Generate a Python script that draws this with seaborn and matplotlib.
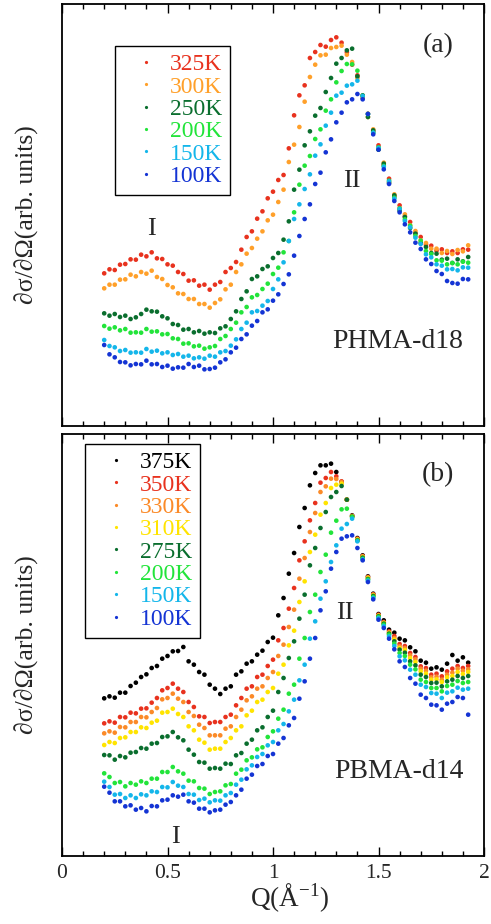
import matplotlib
matplotlib.use('Agg')
import matplotlib.pyplot as plt
from matplotlib.lines import Line2D
from matplotlib.ticker import MultipleLocator
import seaborn as sns
import pandas as pd

sns.set_style('ticks')
plt.rcParams['font.family'] = ['Liberation Serif', 'DejaVu Serif']
plt.rcParams['mathtext.fontset'] = 'custom'
plt.rcParams['mathtext.rm'] = 'Liberation Serif'

# ---------------- data ----------------
Q = [0.200, 0.225, 0.250, 0.275, 0.300, 0.325, 0.350, 0.375, 0.400, 0.425,
     0.450, 0.475, 0.500, 0.525, 0.550, 0.575, 0.600, 0.625, 0.650, 0.675,
     0.700, 0.725, 0.750, 0.775, 0.800, 0.825, 0.850, 0.875, 0.900, 0.925,
     0.950, 0.975, 1.000, 1.025, 1.050, 1.075, 1.100, 1.125, 1.150, 1.175,
     1.200, 1.225, 1.250, 1.275, 1.300, 1.325, 1.350, 1.375, 1.400, 1.425,
     1.450, 1.475, 1.500, 1.525, 1.550, 1.575, 1.600, 1.625, 1.650, 1.675,
     1.700, 1.725, 1.750, 1.775, 1.800, 1.825, 1.850, 1.875, 1.900, 1.925]

# panel (a) PHMA-d18, intensity in arbitrary units
a_325K = [458, 470, 468, 484, 486, 500, 499, 514, 509, 521,
          503, 501, 485, 481, 462, 456, 436, 437, 421, 424,
          409, 424, 432, 462, 474, 492, 529, 567, 584, 622,
          644, 683, 703, 738, 753, 833, 932, 992, 1022, 1104,
          1122, 1143, 1138, 1158, 1166, 1150, 1121, 1084, 1052, 984,
          937, 884, 842, 783, 742, 689, 662, 629, 612, 579,
          567, 544, 541, 526, 530, 519, 524, 519, 530, 529]
a_300K = [413, 424, 424, 439, 440, 454, 449, 462, 457, 466,
          447, 441, 423, 416, 398, 396, 381, 381, 366, 366,
          355, 369, 380, 410, 424, 462, 485, 517, 534, 562,
          584, 617, 634, 672, 709, 792, 844, 897, 973, 1047,
          1084, 1112, 1114, 1134, 1137, 1141, 1114, 1092, 1044, 990,
          927, 890, 832, 790, 732, 695, 652, 635, 602, 585,
          557, 549, 532, 532, 519, 525, 516, 528, 524, 542]
a_250K = [338, 331, 336, 327, 331, 321, 326, 336, 349, 344,
          343, 329, 323, 306, 303, 289, 291, 281, 285, 277,
          281, 279, 293, 299, 321, 344, 381, 404, 441, 449,
          471, 479, 504, 519, 559, 614, 709, 769, 842, 884,
          931, 954, 1002, 1044, 1087, 1104, 1127, 1132, 1049, 992,
          927, 887, 829, 787, 729, 692, 646, 627, 594, 577,
          549, 537, 519, 517, 499, 502, 489, 500, 494, 507]
a_200K = [300, 292, 296, 287, 291, 280, 281, 280, 291, 283,
          284, 275, 276, 263, 261, 247, 248, 239, 241, 232,
          236, 240, 261, 270, 291, 310, 341, 357, 386, 393,
          411, 427, 456, 475, 521, 555, 641, 724, 781, 810,
          861, 890, 946, 980, 1031, 1065, 1086, 1085, 1066, 990,
          936, 880, 836, 780, 736, 685, 653, 620, 601, 570,
          556, 525, 516, 497, 496, 485, 489, 485, 493, 490]
a_150K = [258, 240, 236, 225, 228, 220, 221, 220, 231, 223,
          226, 218, 221, 213, 216, 208, 211, 203, 206, 202,
          211, 208, 221, 225, 241, 260, 291, 310, 341, 345,
          361, 375, 411, 440, 491, 555, 621, 665, 711, 755,
          811, 845, 901, 940, 991, 1000, 1021, 1025, 1036, 990,
          936, 880, 834, 778, 734, 682, 651, 615, 596, 565,
          546, 515, 506, 485, 481, 470, 471, 467, 476, 475]
a_100K = [243, 215, 206, 192, 191, 182, 186, 185, 196, 185,
          186, 177, 181, 172, 176, 175, 186, 177, 181, 170,
          171, 175, 191, 200, 221, 235, 261, 275, 301, 315,
          341, 350, 376, 395, 426, 455, 511, 570, 621, 665,
          726, 760, 821, 860, 911, 940, 971, 980, 996, 980,
          936, 875, 829, 770, 726, 675, 641, 605, 581, 550,
          531, 500, 486, 465, 456, 435, 429, 427, 441, 440]

# panel (b) PBMA-d14
b_375K = [473, 479, 475, 490, 490, 510, 520, 537, 545, 564,
          570, 592, 600, 614, 615, 627, 584, 574, 552, 544,
          514, 502, 486, 502, 509, 544, 554, 577, 584, 604,
          616, 642, 655, 722, 774, 847, 909, 987, 1044, 1112,
          1149, 1172, 1172, 1177, 1152, 1122, 1069, 1022, 954, 902,
          839, 787, 726, 707, 679, 670, 652, 647, 626, 614,
          586, 580, 562, 566, 559, 577, 603, 586, 596, 580]
b_350K = [398, 404, 400, 417, 416, 430, 428, 442, 443, 460,
          474, 497, 504, 517, 502, 492, 462, 447, 419, 417,
          399, 402, 402, 417, 424, 452, 474, 502, 509, 537,
          544, 570, 589, 647, 684, 742, 804, 887, 944, 1007,
          1059, 1120, 1134, 1152, 1139, 1124, 1069, 1020, 952, 900,
          837, 785, 724, 702, 674, 660, 636, 630, 609, 597,
          569, 564, 544, 547, 539, 554, 562, 570, 564, 570]
b_330K = [368, 374, 370, 387, 386, 402, 402, 417, 416, 432,
          444, 470, 474, 487, 472, 462, 432, 420, 394, 384,
          362, 362, 362, 382, 389, 417, 439, 467, 479, 502,
          509, 534, 552, 600, 634, 687, 739, 832, 894, 972,
          1029, 1092, 1109, 1132, 1131, 1122, 1069, 1020, 951, 899,
          836, 784, 722, 700, 671, 654, 629, 624, 602, 590,
          562, 556, 536, 538, 529, 544, 550, 562, 556, 560]
b_310K = [333, 342, 339, 354, 356, 372, 372, 386, 384, 400,
          406, 430, 432, 442, 426, 417, 389, 377, 349, 340,
          319, 322, 322, 342, 354, 377, 389, 422, 436, 462,
          469, 492, 504, 547, 574, 632, 676, 762, 824, 912,
          964, 1024, 1059, 1104, 1114, 1117, 1069, 1019, 949, 897,
          834, 782, 721, 699, 669, 649, 624, 618, 594, 582,
          554, 547, 529, 530, 522, 536, 540, 552, 546, 552]
b_275K = [303, 302, 289, 300, 296, 310, 312, 324, 322, 337,
          339, 357, 359, 372, 356, 347, 319, 304, 282, 280,
          262, 264, 262, 277, 276, 302, 309, 337, 349, 377,
          386, 417, 436, 492, 534, 594, 644, 712, 784, 872,
          924, 984, 1032, 1077, 1092, 1110, 1069, 1018, 947, 895,
          831, 780, 719, 697, 667, 644, 619, 610, 584, 572,
          544, 537, 519, 520, 509, 524, 529, 540, 534, 540]
b_200K = [248, 237, 219, 222, 209, 219, 214, 224, 219, 232,
          232, 252, 252, 267, 254, 247, 226, 224, 204, 202,
          186, 192, 194, 212, 216, 247, 259, 287, 296, 320,
          326, 357, 374, 412, 439, 487, 514, 592, 654, 732,
          784, 852, 904, 970, 1006, 1040, 1042, 1017, 946, 892,
          829, 777, 717, 694, 664, 637, 609, 600, 574, 560,
          529, 522, 504, 504, 494, 510, 514, 525, 519, 522]
b_150K = [223, 207, 184, 186, 174, 182, 174, 185, 182, 194,
          192, 207, 206, 222, 211, 207, 186, 184, 168, 172,
          161, 167, 166, 182, 189, 214, 229, 260, 272, 297,
          306, 332, 342, 377, 396, 434, 469, 527, 574, 652,
          704, 772, 824, 882, 932, 982, 996, 1012, 944, 890,
          826, 774, 714, 690, 659, 630, 599, 587, 559, 544,
          514, 507, 489, 487, 474, 490, 494, 505, 499, 502]
b_100K = [208, 190, 164, 164, 149, 152, 139, 144, 134, 150,
          149, 167, 169, 182, 178, 184, 164, 160, 142, 142,
          131, 137, 139, 154, 162, 182, 199, 232, 244, 270,
          276, 300, 306, 337, 354, 392, 414, 472, 524, 592,
          654, 737, 794, 862, 912, 952, 959, 962, 924, 887,
          822, 770, 709, 684, 652, 620, 584, 567, 534, 517,
          484, 474, 454, 452, 439, 457, 462, 477, 474, 424]

labels_a = ['325K', '300K', '250K', '200K', '150K', '100K']
colors_a = ['#e8321e', '#ffa02a', '#0a6e2e', '#22e43a', '#14b6ea', '#1434d4']
series_a = [a_325K, a_300K, a_250K, a_200K, a_150K, a_100K]

labels_b = ['375K', '350K', '330K', '310K', '275K', '200K', '150K', '100K']
colors_b = ['#000000', '#e8321e', '#fb8a28', '#ffe400', '#0a6e2e', '#22e43a', '#14b6ea', '#1434d4']
series_b = [b_375K, b_350K, b_330K, b_310K, b_275K, b_200K, b_150K, b_100K]

x_ticks = [0, 0.5, 1, 1.5, 2]
x_ticklabels = ['0', '0.5', '1', '1.5', '2']

# ---------------- figure ----------------
W, H = 491, 924
fig = plt.figure(figsize=(W / 100, H / 100), dpi=100)


def rect(l, t, r, b):
    return [l / W, 1 - b / H, (r - l) / W, (b - t) / H]


ax_a = fig.add_axes(rect(62, 4, 484, 426))
ax_b = fig.add_axes(rect(62, 434, 484, 856))


def draw(ax, labels, colors, series, leg_anchor, show_labels):
    frames = [pd.DataFrame({'Q': Q, 'I': s, 'T': lab}) for lab, s in zip(labels, series)]
    df = pd.concat(frames, ignore_index=True)
    sns.scatterplot(data=df, x='Q', y='I', hue='T', hue_order=labels,
                    palette=dict(zip(labels, colors)), s=11, linewidth=0,
                    legend=False, ax=ax)
    ax.set_xlim(0, 2)
    ax.set_ylim(0, 1266)
    ax.set_xlabel('')
    ax.set_ylabel('')
    ax.set_yticks([])
    ax.set_xticks(x_ticks)
    ax.xaxis.set_minor_locator(MultipleLocator(0.1))
    ax.tick_params(axis='x', which='both', direction='in', top=True, bottom=True,
                   width=1.0, color='black')
    ax.tick_params(axis='x', which='major', length=6.5, pad=6)
    ax.tick_params(axis='x', which='minor', length=3.5)
    if show_labels:
        ax.set_xticklabels(x_ticklabels, fontsize=15.5)
    else:
        ax.tick_params(axis='x', labelbottom=False)
    for sp in ax.spines.values():
        sp.set_visible(True)
        sp.set_linewidth(1.3)
        sp.set_color('black')
    handles = [Line2D([], [], ls='', marker='o', markersize=2.3,
                      markerfacecolor=c, markeredgewidth=0) for c in colors]
    leg = ax.legend(handles, labels, loc='upper left', bbox_to_anchor=leg_anchor,
                    bbox_transform=ax.transAxes, borderaxespad=0, frameon=True,
                    fancybox=False, edgecolor='black', framealpha=1, fontsize=17,
                    handlelength=1.94, handletextpad=0.05, labelspacing=0.035,
                    borderpad=0.33)
    leg.get_frame().set_linewidth(1.0)
    for t, c in zip(leg.get_texts(), colors):
        t.set_color(c)


draw(ax_a, labels_a, colors_a, series_a, ((115 - 62) / 422, (426 - 46) / 422), False)
draw(ax_b, labels_b, colors_b, series_b, ((85 - 62) / 422, (856 - 444) / 422), True)

# annotations
ax_a.text(0.213, 0.4526, 'I', transform=ax_a.transAxes, ha='center', va='baseline', fontsize=19)
ax_a.text(0.687, 0.567, 'II', transform=ax_a.transAxes, ha='center', va='baseline', fontsize=19)
ax_a.text(0.891, 0.887, '(a)', transform=ax_a.transAxes, ha='center', va='baseline', fontsize=20)
ax_a.text(0.796, 0.185, 'PHMA-d18', transform=ax_a.transAxes, ha='center', va='baseline', fontsize=20)

ax_b.text(0.270, 0.0315, 'I', transform=ax_b.transAxes, ha='center', va='baseline', fontsize=19)
ax_b.text(0.671, 0.561, 'II', transform=ax_b.transAxes, ha='center', va='baseline', fontsize=19)
ax_b.text(0.891, 0.889, '(b)', transform=ax_b.transAxes, ha='center', va='baseline', fontsize=20)
ax_b.text(0.799, 0.1855, 'PBMA-d14', transform=ax_b.transAxes, ha='center', va='baseline', fontsize=20)

ylab = '∂σ/∂Ω(arb. units)'
fig.text(27 / W, 1 - 215 / H, ylab, rotation=90, ha='center', va='center', fontsize=18.5)
fig.text(27 / W, 1 - 645 / H, ylab, rotation=90, ha='center', va='center', fontsize=18.5)
fig.text(250 / W, 1 - 907 / H, 'Q(Å$^{-1}$)', ha='left', va='baseline', fontsize=19.5)

fig.savefig('out.png', dpi=100)
